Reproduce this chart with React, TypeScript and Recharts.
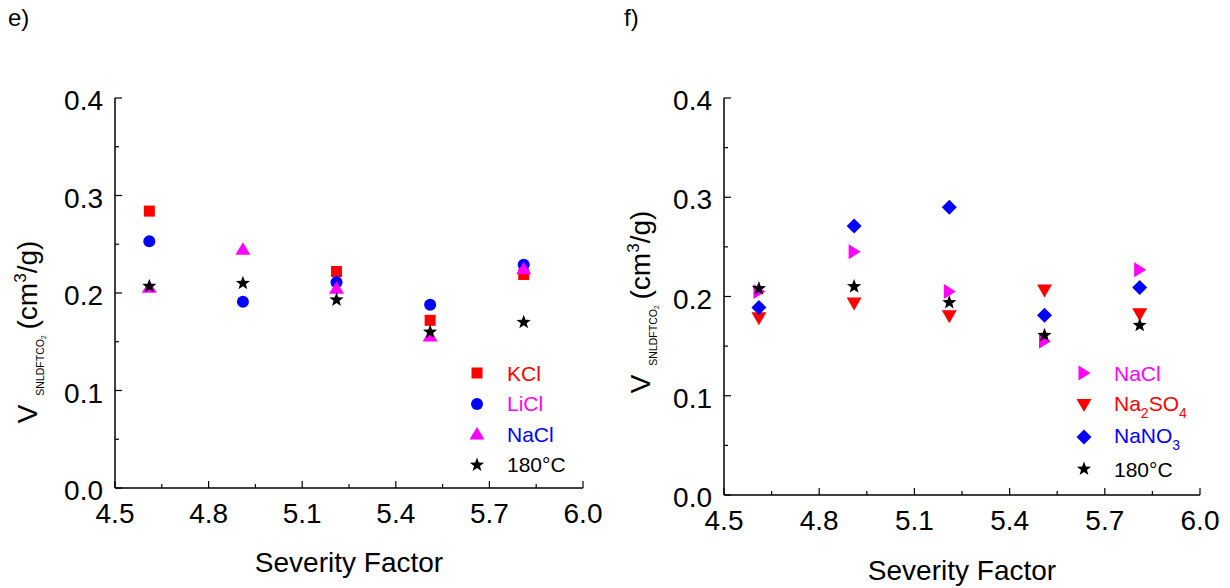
import React from "react";
import { ScatterChart, Scatter, XAxis, YAxis, Legend } from "recharts";

const FONT = "'Liberation Sans', Arial, Helvetica, sans-serif";

// severity factor of each run
const severity = [4.61, 4.91, 5.21, 5.51, 5.81];

// panel e) V SNLDFT CO2 (cm3/g)
const eKCl = [0.284, null, 0.222, 0.172, 0.219];
const eLiCl = [0.253, 0.191, 0.211, 0.188, 0.229];
const eNaCl = [0.206, 0.245, 0.205, 0.156, 0.225];
const e180 = [0.207, 0.21, 0.193, 0.16, 0.17];

// panel f)
const fNaCl = [0.205, 0.245, 0.205, 0.155, 0.227];
const fNa2SO4 = [0.178, 0.193, 0.18, 0.206, 0.182];
const fNaNO3 = [0.189, 0.271, 0.29, 0.181, 0.209];
const f180 = [0.208, 0.21, 0.194, 0.161, 0.171];

const xTicks = [4.5, 4.65, 4.8, 4.95, 5.1, 5.25, 5.4, 5.55, 5.7, 5.85, 6.0];
const yTicks = [0, 0.05, 0.1, 0.15, 0.2, 0.25, 0.3, 0.35, 0.4];

const toPoints = (ys: (number | null)[]) =>
  severity.map((x, i) => ({ x, y: ys[i] })).filter((p) => p.y != null);

type MarkProps = { cx?: number; cy?: number; fill?: string };

const Square = ({ cx = 0, cy = 0, fill }: MarkProps) => (
  <rect x={cx - 5.5} y={cy - 5.5} width={11} height={11} fill={fill} />
);
const Dot = ({ cx = 0, cy = 0, fill }: MarkProps) => <circle cx={cx} cy={cy} r={6} fill={fill} />;
const TriUp = ({ cx = 0, cy = 0, fill }: MarkProps) => (
  <polygon points={`${cx},${cy - 7} ${cx + 7.5},${cy + 5.5} ${cx - 7.5},${cy + 5.5}`} fill={fill} />
);
const TriDown = ({ cx = 0, cy = 0, fill }: MarkProps) => (
  <polygon points={`${cx - 7.5},${cy - 6} ${cx + 7.5},${cy - 6} ${cx},${cy + 7}`} fill={fill} />
);
const TriRight = ({ cx = 0, cy = 0, fill }: MarkProps) => (
  <polygon points={`${cx - 5.5},${cy - 7.5} ${cx + 6.5},${cy} ${cx - 5.5},${cy + 7.5}`} fill={fill} />
);
const Diamond = ({ cx = 0, cy = 0, fill }: MarkProps) => (
  <polygon points={`${cx},${cy - 7.5} ${cx + 7.5},${cy} ${cx},${cy + 7.5} ${cx - 7.5},${cy}`} fill={fill} />
);
const Star = ({ cx = 0, cy = 0, fill }: MarkProps) => {
  const pts: string[] = [];
  for (let i = 0; i < 10; i++) {
    const r = i % 2 === 0 ? 7.5 : 3.1;
    const a = -Math.PI / 2 + (i * Math.PI) / 5;
    pts.push(`${cx + r * Math.cos(a)},${cy + r * Math.sin(a)}`);
  }
  return <polygon points={pts.join(" ")} fill={fill} />;
};

type Series = {
  name: string;
  label: React.ReactNode;
  values: (number | null)[];
  color: string;
  labelColor: string;
  Shape: (p: MarkProps) => React.ReactElement;
};

const seriesE: Series[] = [
  { name: "KCl", label: "KCl", values: eKCl, color: "#ff0000", labelColor: "#ff0000", Shape: Square },
  { name: "LiCl", label: "LiCl", values: eLiCl, color: "#0000ff", labelColor: "#ff00ff", Shape: Dot },
  { name: "NaCl", label: "NaCl", values: eNaCl, color: "#ff00ff", labelColor: "#0000ff", Shape: TriUp },
  { name: "180°C", label: "180°C", values: e180, color: "#000000", labelColor: "#000000", Shape: Star },
];

const sub = (s: string) => (
  <span style={{ fontSize: 14, position: "relative", top: 7 }}>{s}</span>
);

const seriesF: Series[] = [
  { name: "NaCl", label: "NaCl", values: fNaCl, color: "#ff00ff", labelColor: "#ff00ff", Shape: TriRight },
  {
    name: "Na2SO4",
    label: <>Na{sub("2")}SO{sub("4")}</>,
    values: fNa2SO4,
    color: "#ff0000",
    labelColor: "#ff0000",
    Shape: TriDown,
  },
  {
    name: "NaNO3",
    label: <>NaNO{sub("3")}</>,
    values: fNaNO3,
    color: "#0000ff",
    labelColor: "#0000ff",
    Shape: Diamond,
  },
  { name: "180°C", label: "180°C", values: f180, color: "#000000", labelColor: "#000000", Shape: Star },
];

function makeTick(side: "bottom" | "top" | "left" | "right", fontSize: number, labelled: boolean) {
  return function Tick(props: any) {
    const { x, y, payload, index } = props;
    const major = index % 2 === 0;
    const len = major ? 7 : 4;
    let line: React.ReactNode = null;
    if (side === "bottom") line = <line x1={x} y1={y} x2={x} y2={y - len} stroke="#000" strokeWidth={1.2} />;
    if (side === "top") line = <line x1={x} y1={y} x2={x} y2={y + len} stroke="#000" strokeWidth={1.2} />;
    if (side === "left") line = <line x1={x} y1={y} x2={x + len} y2={y} stroke="#000" strokeWidth={1.2} />;
    if (side === "right") line = <line x1={x} y1={y} x2={x - len} y2={y} stroke="#000" strokeWidth={1.2} />;
    let text: React.ReactNode = null;
    if (labelled && major) {
      const v = Number(payload.value).toFixed(1);
      if (side === "bottom")
        text = (
          <text x={x} y={y + 35} textAnchor="middle" fontSize={fontSize} fontFamily={FONT} fill="#000">
            {v}
          </text>
        );
      if (side === "left")
        text = (
          <text x={x - 12} y={y + 12} textAnchor="end" fontSize={fontSize} fontFamily={FONT} fill="#000">
            {v}
          </text>
        );
    }
    return (
      <g>
        {line}
        {text}
      </g>
    );
  };
}

function LegendBox({ series, rowHeight }: { series: Series[]; rowHeight: number }) {
  return (
    <div style={{ fontFamily: FONT, fontSize: 21 }}>
      {series.map((s) => (
        <div key={s.name} style={{ display: "flex", alignItems: "center", height: rowHeight }}>
          <svg width={16} height={16} style={{ flex: "none" }}>
            <s.Shape cx={8} cy={8} fill={s.color} />
          </svg>
          <span style={{ marginLeft: 22, color: s.labelColor, whiteSpace: "nowrap", lineHeight: "21px" }}>
            {s.label}
          </span>
        </div>
      ))}
    </div>
  );
}

function YTitle({ x, y, fontSize }: { x: number; y: number; fontSize: number }) {
  return (
    <text
      x={x}
      y={y}
      transform={`rotate(-90 ${x} ${y})`}
      textAnchor="middle"
      fontFamily={FONT}
      fontSize={fontSize}
      fill="#000"
    >
      V
      <tspan dx={9} dy={7} fontSize={10.5}>
        SNLDFTCO
      </tspan>
      <tspan dy={2} fontSize={6.5}>
        2
      </tspan>
      <tspan dx={6} dy={-9}>
        (cm
      </tspan>
      <tspan dy={-11} fontSize={Math.round(fontSize * 0.6)}>
        3
      </tspan>
      <tspan dy={11}>/g)</tspan>
    </text>
  );
}

type PanelProps = {
  left: number;
  width: number;
  plotLeft: number;
  plotRight: number;
  plotTop: number;
  plotBottom: number;
  series: Series[];
  legendLeft: number;
  legendTop: number;
  rowHeight: number;
  yTitleX: number;
  yTitleY: number;
  xTitleOffset: number;
};

function Panel(p: PanelProps) {
  const H = 588;
  return (
    <div style={{ position: "absolute", left: p.left, top: 0, width: p.width, height: H }}>
      <ScatterChart
        width={p.width}
        height={H}
        margin={{ top: p.plotTop, right: p.width - p.plotRight, bottom: 0, left: 0 }}
      >
        <XAxis
          xAxisId="b"
          dataKey="x"
          type="number"
          domain={[4.5, 6]}
          ticks={xTicks}
          interval={0}
          allowDataOverflow
          height={H - p.plotBottom}
          tickSize={0}
          tickMargin={0}
          tickLine={false}
          axisLine={{ stroke: "#000", strokeWidth: 1.5 }}
          tick={makeTick("bottom", 28, true)}
          label={{
            value: "Severity Factor",
            position: "insideBottom",
            offset: p.xTitleOffset,
            fill: "#000",
            fontSize: 28,
            fontFamily: FONT,
          }}
        />
        <XAxis
          xAxisId="t"
          orientation="top"
          type="number"
          domain={[4.5, 6]}
          ticks={xTicks}
          interval={0}
          allowDataOverflow
          height={0}
          tickSize={0}
          tickMargin={0}
          tickLine={false}
          axisLine={{ stroke: "#000", strokeWidth: 1.5 }}
          tick={makeTick("top", 28, false)}
        />
        <YAxis
          yAxisId="l"
          dataKey="y"
          type="number"
          domain={[0, 0.4]}
          ticks={yTicks}
          interval={0}
          allowDataOverflow
          width={p.plotLeft}
          tickSize={0}
          tickMargin={0}
          tickLine={false}
          axisLine={{ stroke: "#000", strokeWidth: 1.5 }}
          tick={makeTick("left", 28, true)}
          label={{ content: () => <YTitle x={p.yTitleX} y={p.yTitleY} fontSize={28} /> }}
        />
        <YAxis
          yAxisId="r"
          orientation="right"
          type="number"
          domain={[0, 0.4]}
          ticks={yTicks}
          interval={0}
          allowDataOverflow
          width={0}
          tickSize={0}
          tickMargin={0}
          tickLine={false}
          axisLine={{ stroke: "#000", strokeWidth: 1.5 }}
          tick={makeTick("right", 28, false)}
        />
        {p.series.map((s) => (
          <Scatter
            key={s.name}
            name={s.name}
            xAxisId="b"
            yAxisId="l"
            data={toPoints(s.values)}
            fill={s.color}
            shape={(props: any) => <s.Shape cx={props.cx} cy={props.cy} fill={s.color} />}
            isAnimationActive={false}
          />
        ))}
        <Legend
          layout="vertical"
          align="center"
          verticalAlign="middle"
          wrapperStyle={{ left: p.legendLeft, top: p.legendTop, width: "auto" }}
          content={() => <LegendBox series={p.series} rowHeight={p.rowHeight} />}
        />
      </ScatterChart>
    </div>
  );
}

export default function App() {
  return (
    <div
      style={{
        position: "absolute",
        left: 0,
        top: 0,
        width: 1230,
        height: 588,
        background: "#fff",
        fontFamily: FONT,
      }}
    >
      <div style={{ position: "absolute", left: 8, top: 4, fontSize: 24 }}>e)</div>
      <div style={{ position: "absolute", left: 624, top: 4, fontSize: 24 }}>f)</div>
      <Panel
        left={0}
        width={610}
        plotLeft={115}
        plotRight={583}
        plotTop={98}
        plotBottom={488}
        series={seriesE}
        legendLeft={469}
        legendTop={358}
        rowHeight={30.5}
        yTitleX={37}
        yTitleY={332}
        xTitleOffset={16}
      />
      <Panel
        left={610}
        width={620}
        plotLeft={114}
        plotRight={590}
        plotTop={98}
        plotBottom={495}
        series={seriesF}
        legendLeft={466}
        legendTop={357}
        rowHeight={32}
        yTitleX={40}
        yTitleY={302}
        xTitleOffset={8}
      />
    </div>
  );
}
